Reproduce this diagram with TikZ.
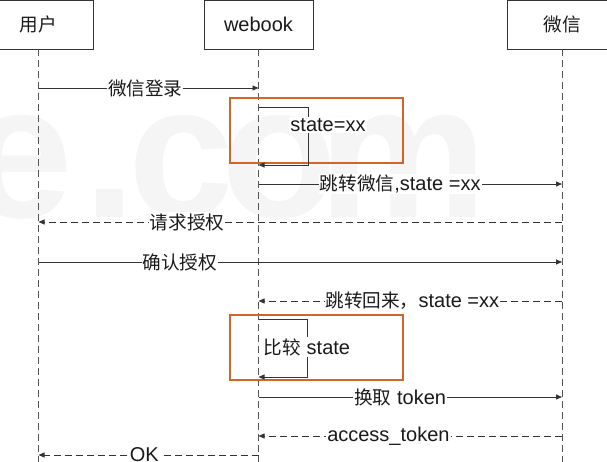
\documentclass[tikz,border=0pt]{standalone}
\usepackage{fontspec}
\setmainfont{Liberation Sans}
\newfontfamily\cjk{Noto Sans CJK SC}[Scale=0.93]
\newfontfamily\wmfont{Liberation Sans}[BoldFont={Liberation Sans Bold}]
\usetikzlibrary{arrows.meta}
\definecolor{lineC}{HTML}{333333}
\definecolor{lifeC}{HTML}{555555}
\definecolor{txtC}{HTML}{1A1A1A}
\definecolor{orangeC}{RGB}{214,100,40}
\definecolor{wmC}{HTML}{F5F5F5}
\begin{document}
\begin{tikzpicture}[x=1pt,y=-1pt,
  every node/.style={font=\fontsize{20}{24}\selectfont, text=txtC},
  actor/.style={draw=lineC, line width=0.8pt, fill=white, minimum width=109pt, minimum height=49pt, inner sep=0pt},
  lifeline/.style={draw=lifeC, line width=0.7pt, dash pattern=on 7pt off 4pt},
  msg/.style={draw=lineC, line width=0.8pt, -{Triangle[length=6pt,width=5pt]}},
  rmsg/.style={msg, dash pattern=on 7pt off 4pt},
  lbl/.style={fill=white, inner sep=1pt},
  frame/.style={draw=orangeC, line width=1.6pt},
  wm/.style={text=wmC, font=\wmfont\bfseries\fontsize{190}{200}\selectfont, anchor=base, inner sep=0pt}
]
\useasboundingbox (0,0) rectangle (607,462);
% watermark
\node[wm] (wm1) at (20,218) {e};
\node[wm] (wm2) at (110,218) {.};
\node[wm] (wm3) at (181,218) {c};
\node[wm] (wm4) at (280,218) {o};
\node[wm] (wm5) at (403,218) {m};

% actors
\node[actor] (u) at (38.5,24.5) {\cjk 用户};
\node[actor] (w) at (258.5,24.5) {webook};
\node[actor] (x) at (562,24.5) {\cjk 微信};

% lifeline ends
\coordinate (ue) at (38.5,462);
\coordinate (we) at (258.5,462);
\coordinate (xe) at (562,462);
\draw[lifeline] (u.south) -- (ue);
\draw[lifeline] (w.south) -- (we);
\draw[lifeline] (x.south) -- (xe);

% orange frames
\node[frame, minimum width=173pt, minimum height=65pt, inner sep=0pt] (f1) at (316.5,130.5) {};
\node[frame, minimum width=173pt, minimum height=65pt, inner sep=0pt] (f2) at (316.5,347.5) {};

% message points
\coordinate (u1) at (38.5,88);   \coordinate (w1) at (258.5,88);
\coordinate (w2) at (258.5,184); \coordinate (x2) at (562,184);
\coordinate (x3) at (562,222);   \coordinate (u3) at (38.5,222);
\coordinate (u4) at (38.5,262);  \coordinate (x4) at (562,262);
\coordinate (x5) at (562,301);   \coordinate (w5) at (258.5,301);
\coordinate (w6) at (258.5,397); \coordinate (x6) at (562,397);
\coordinate (x7) at (562,436);   \coordinate (w7) at (258.5,436);
\coordinate (w8) at (258.5,455); \coordinate (u8) at (38.5,455);

% self loops
\coordinate (s1a) at (258.5,107); \coordinate (s1b) at (308,107);
\coordinate (s1c) at (308,165);   \coordinate (s1d) at (258.5,165);
\coordinate (s2a) at (258.5,319); \coordinate (s2b) at (307,319);
\coordinate (s2c) at (307,377);   \coordinate (s2d) at (258.5,377);
\draw[msg] (s1a) -- (s1b) -- (s1c) -- (s1d);
\draw[msg] (s2a) -- (s2b) -- (s2c) -- (s2d);
\node[lbl] (l1) at (328,125) {state=xx};
\node[lbl] (l2) at (307,347) {{\cjk 比较} state};

% messages
\draw[msg] (u1) -- node[lbl, pos=0.485] (m1) {\cjk 微信登录} (w1);
\draw[msg] (w2) -- node[lbl, pos=0.467] (m2) {{\cjk 跳转微信},state =xx} (x2);
\draw[rmsg] (x3) -- node[lbl, pos=0.716] (m3) {\cjk 请求授权} (u3);
\draw[msg] (u4) -- node[lbl, pos=0.270] (m4) {\cjk 确认授权} (x4);
\draw[rmsg] (x5) -- node[lbl, pos=0.493] (m5) {{\cjk 跳转回来，}state =xx} (w5);
\draw[msg] (w6) -- node[lbl, pos=0.467] (m6) {{\cjk 换取} token} (x6);
\draw[rmsg] (x7) -- node[lbl, pos=0.572] (m7) {access\_token} (w7);
\draw[rmsg] (w8) -- node[lbl, pos=0.519] (m8) {OK} (u8);
\end{tikzpicture}
\end{document}
